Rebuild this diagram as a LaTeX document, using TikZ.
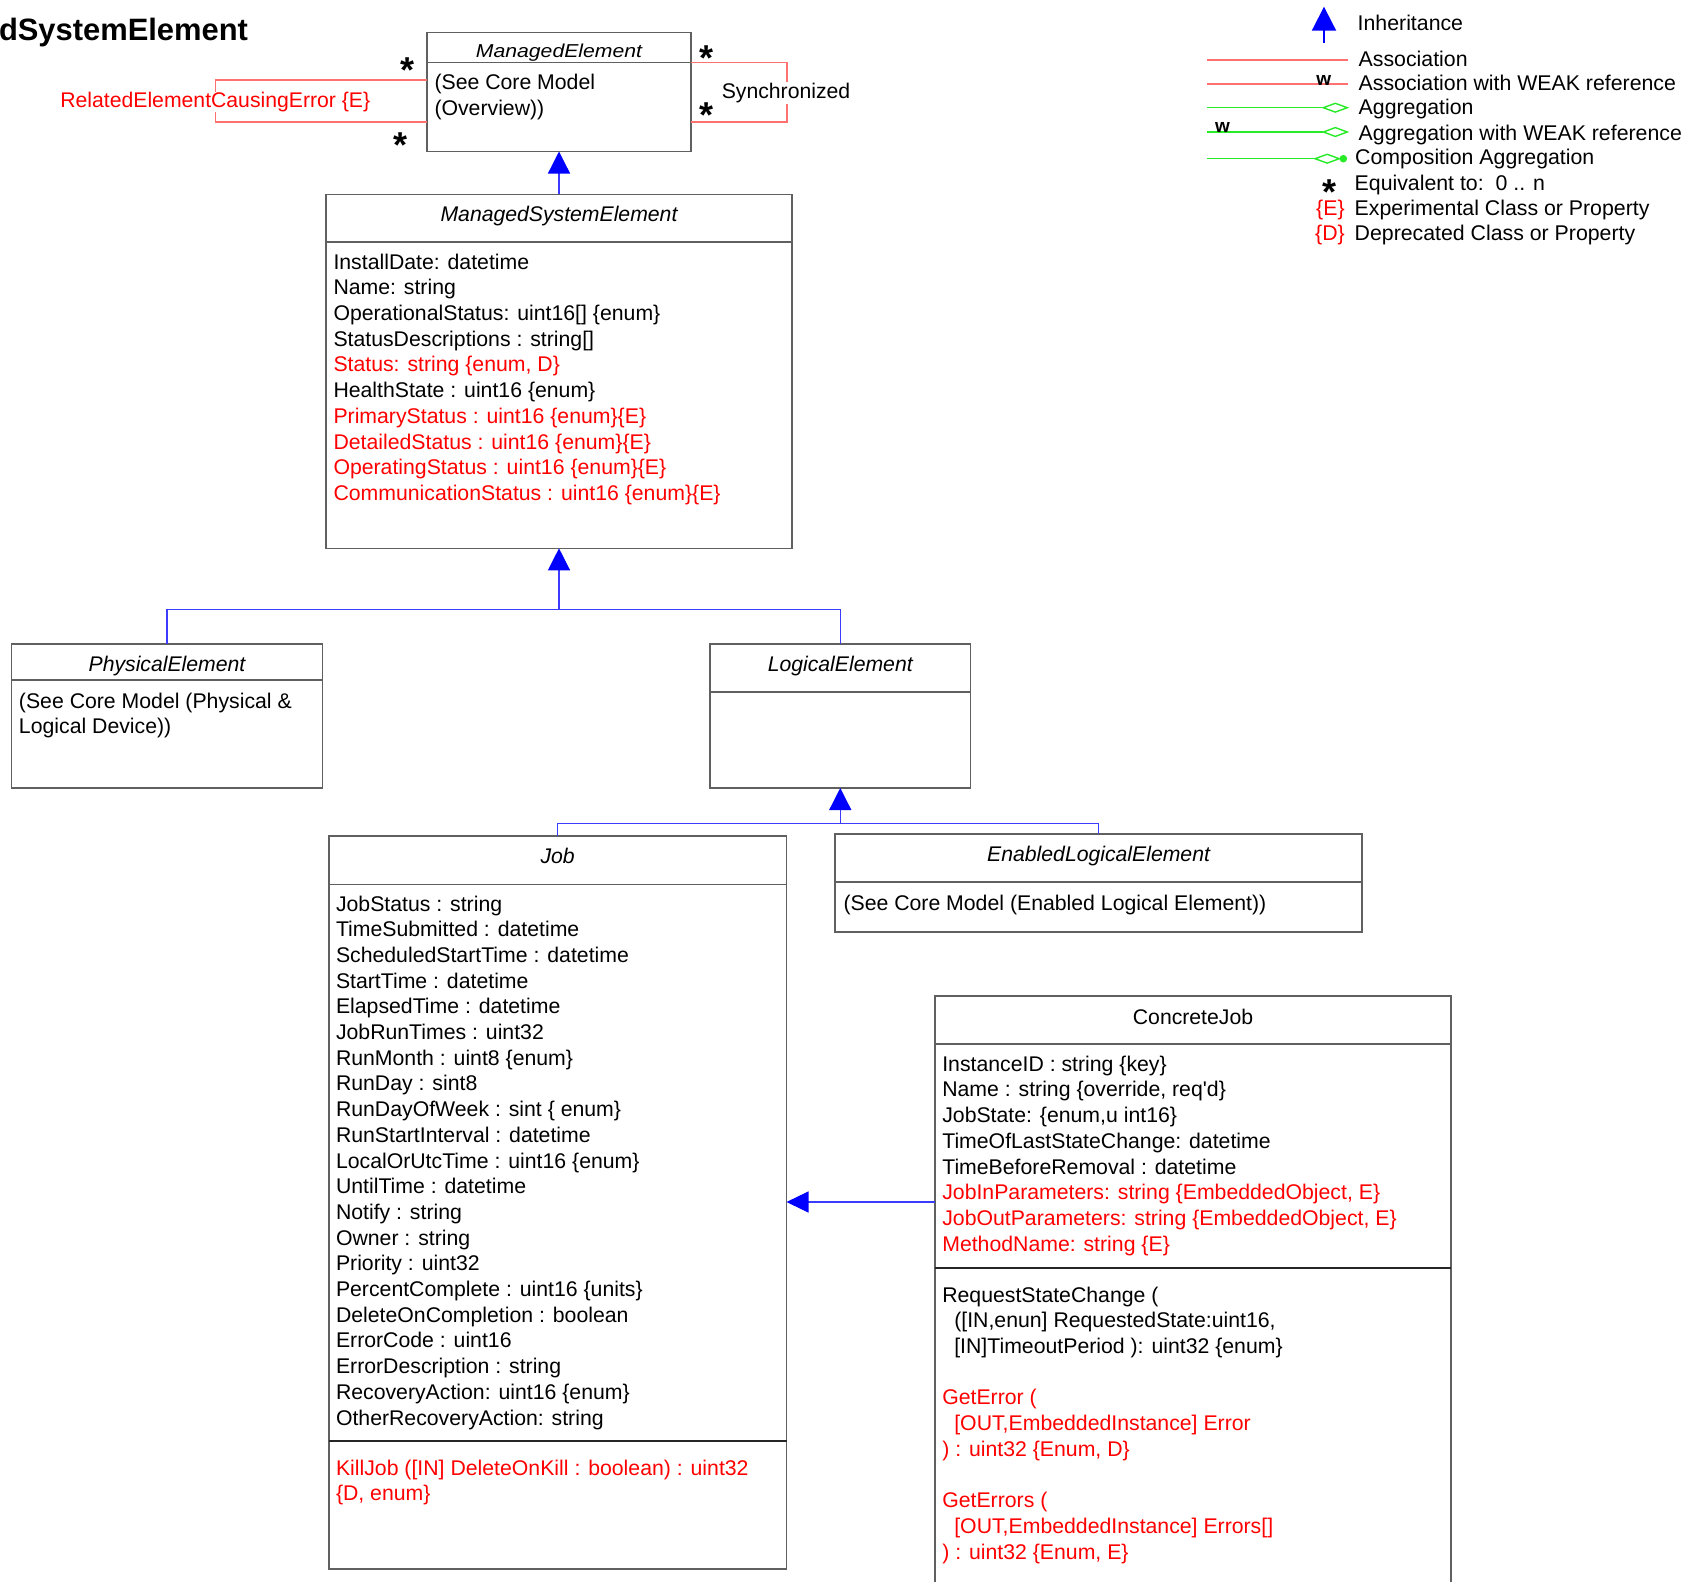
\documentclass[tikz,border=0pt]{standalone}
\usepackage{fontspec}
\setmainfont{Liberation Sans}
\usepackage{graphicx}
\usetikzlibrary{arrows.meta}
\definecolor{boxgray}{RGB}{96,96,96}
\definecolor{assocred}{RGB}{255,112,112}
\definecolor{inhblue}{RGB}{0,0,255}
\definecolor{lineblue}{RGB}{60,60,255}
\definecolor{aggreen}{RGB}{40,235,40}
\definecolor{txtred}{RGB}{255,0,0}
\newcommand\rtx[1]{\textcolor{txtred}{#1}}
\newcommand\ind{\hspace*{12pt}}
\newcommand\astglyph{\raisebox{-20.5pt}[0pt][0pt]{*}}
\tikzset{
  cbox/.style={draw=boxgray, line width=1.6pt, rectangle, inner sep=0pt, outer sep=0pt, anchor=north west},
  msep/.style={draw=black!85, line width=1.6pt},
  txt/.style={inner sep=0pt, outer sep=0pt, anchor=north west, align=left, font=\fontsize{21.25}{25.7}\selectfont},
  ttl/.style={inner sep=0pt, anchor=base, font=\fontsize{21.2}{25.7}\selectfont\itshape},
  lbl/.style={inner sep=0pt, anchor=base, font=\fontsize{21.2}{25.7}\selectfont},
  lgd/.style={inner sep=0pt, anchor=base west, font=\fontsize{21.3}{25.7}\selectfont},
  astx/.style={inner sep=0pt, anchor=center, font=\fontsize{36}{36}\selectfont\bfseries},
  wtx/.style={inner sep=0pt, anchor=base, font=\fontsize{19}{19}\selectfont\bfseries},
  conn/.style={draw=lineblue, line width=1.3pt},
  inh/.style={conn, -{Triangle[length=22pt,width=22pt,color=inhblue]}},
  assoc/.style={draw=assocred, line width=1.6pt},
  agg/.style={draw=aggreen, line width=1.4pt},
}
\newcommand\compart[5]{\node[cbox, minimum width=#4pt, minimum height=#5pt] (#1) at (#2,#3) {};}
\begin{document}
\begin{tikzpicture}[x=1pt,y=-1pt]
\useasboundingbox (0,0) rectangle (1703,1582);
\clip (0,0) rectangle (1703,1582);

% ---------- title ----------
\node[inner sep=0pt, anchor=base west, font=\fontsize{30.9}{32}\selectfont\bfseries] (title) at (-1.2,40) {dSystemElement};

% ---------- compartments ----------
\compart{meh}{427}{32.3}{264}{30}
\compart{meb}{427}{62.3}{264}{89.2}
\compart{mseh}{326}{194.3}{466}{47.7}
\compart{mseb}{326}{242}{466}{306.3}
\compart{peh}{11.4}{644}{311.2}{35.7}
\compart{peb}{11.4}{679.7}{311.2}{108.3}
\compart{leh}{710.2}{644}{260.1}{48}
\compart{leb}{710.2}{692}{260.1}{96}
\compart{jobh}{328.8}{836}{457.7}{48.3}
\compart{joba}{328.8}{884.3}{457.7}{556.7}
\compart{jobm}{328.8}{1441}{457.7}{128}
\compart{eleh}{835.2}{833.7}{526.8}{48}
\compart{eleb}{835.2}{881.7}{526.8}{50}
\compart{cjh}{935}{996}{516}{47.7}
\compart{cja}{935}{1043.7}{516}{224.2}
\compart{cjm}{935}{1267.9}{516}{360}
\draw[msep] (jobm.north west) -- (jobm.north east);
\draw[msep] (cjm.north west) -- (cjm.north east);

% ---------- connectors ----------
\draw[inh] (mseh.north) -- (meb.south);
\coordinate (j1) at (559,609.3);
\draw[conn] (peh.north) |- (j1) -| (leh.north);
\draw[inh] (j1) -- (mseb.south);
\coordinate (j2) at (840.25,823.7);
\draw[conn] (jobh.north) |- (j2) -| (eleh.north);
\draw[inh] (j2) -- (leb.south);
\coordinate (j3) at (900,1202);
\draw[inh, -{Triangle[length=22pt,width=21pt,color=inhblue]}] (cja.west |- j3) -- (joba.east |- j3);

% associations
\coordinate (r1) at (215.3,80);
\coordinate (r2) at (215.3,121.7);
\draw[assoc] (meb.west |- r1) -- (r1) -- (r2) -- (meb.west |- r2);
\coordinate (s1) at (787,62.3);
\coordinate (s2) at (787,121.7);
\draw[assoc] (meb.east |- s1) -- (s1) -- (s2) -- (meb.east |- s2);
\node[lbl, fill=white, inner sep=0.5pt, text=txtred] (rel) at (215.3,107.5) {RelatedElementCausingError \{E\}};
\node[lbl, fill=white, inner sep=1pt] (syn) at (786,98.2) {Synchronized};
\node[astx] (st1) at (407.3,61.7) {\astglyph};
\node[astx] (st2) at (400.7,136.7) {\astglyph};
\node[astx] (st3) at (706,50) {\astglyph};
\node[astx] (st4) at (706,106.7) {\astglyph};

% ---------- titles ----------
\node[ttl] (met) at (559,57.3) {\scalebox{1}[0.88]{ManagedElement}};
\node[ttl] (mset) at (559,221.7) {ManagedSystemElement};
\node[ttl] (pet) at (167,671) {PhysicalElement};
\node[ttl] (let) at (840.25,671) {LogicalElement};
\node[ttl] (jobt) at (557.65,863.5) {Job};
\node[ttl] (elet) at (1098.6,861.5) {EnabledLogicalElement};
\node[lbl] (cjt) at (1193,1024) {ConcreteJob};

% ---------- bodies ----------
\node[txt] (mebt) at (434.5,72) {\strut(See Core Model\\(Overview))};
\node[txt] (msebt) at (333.5,251.2) {\strut InstallDate: datetime\\
Name: string\\
OperationalStatus: uint16[] \{enum\}\\
StatusDescriptions : string[]\\
\rtx{Status: string \{enum, D\}}\\
HealthState : uint16 \{enum\}\\
\rtx{PrimaryStatus : uint16 \{enum\}\{E\}}\\
\rtx{DetailedStatus : uint16 \{enum\}\{E\}}\\
\rtx{OperatingStatus : uint16 \{enum\}\{E\}}\\
\rtx{CommunicationStatus : uint16 \{enum\}\{E\}}};
\node[txt] (pebt) at (19,690.2) {\strut(See Core Model (Physical \&\\Logical Device))};
\node[txt] (elebt) at (843.5,892.8) {\strut(See Core Model (Enabled Logical Element))};
\node[txt] (jobat) at (336,893) {\strut JobStatus : string\\
TimeSubmitted : datetime\\
ScheduledStartTime : datetime\\
StartTime : datetime\\
ElapsedTime : datetime\\
JobRunTimes : uint32\\
RunMonth : uint8 \{enum\}\\
RunDay : sint8\\
RunDayOfWeek : sint \{ enum\}\\
RunStartInterval : datetime\\
LocalOrUtcTime : uint16 \{enum\}\\
UntilTime : datetime\\
Notify : string\\
Owner : string\\
Priority : uint32\\
PercentComplete : uint16 \{units\}\\
DeleteOnCompletion : boolean\\
ErrorCode : uint16\\
ErrorDescription : string\\
RecoveryAction: uint16 \{enum\}\\
OtherRecoveryAction: string};
\node[txt] (jobmt) at (336,1457) {\strut\rtx{KillJob ([IN] DeleteOnKill : boolean) : uint32}\\
\rtx{\{D, enum\}}};
\node[txt] (cjat) at (942.3,1053.2) {\strut InstanceID : string \{key\}\\
Name : string \{override, req\textquotesingle d\}\\
JobState: \{enum,u int16\}\\
TimeOfLastStateChange: datetime\\
TimeBeforeRemoval : datetime\\
\rtx{JobInParameters: string \{EmbeddedObject, E\}}\\
\rtx{JobOutParameters: string \{EmbeddedObject, E\}}\\
\rtx{MethodName: string \{E\}}};
\node[txt] (cjmt) at (942.3,1284) {\strut RequestStateChange (\\
\ind([IN,enun] RequestedState:uint16,\\
\ind[IN]TimeoutPeriod ): uint32 \{enum\}\\
\strut\\
\rtx{GetError (}\\
\ind\rtx{[OUT,EmbeddedInstance] Error}\\
\rtx{) : uint32 \{Enum, D\}}\\
\strut\\
\rtx{GetErrors (}\\
\ind\rtx{[OUT,EmbeddedInstance] Errors[]}\\
\rtx{) : uint32 \{Enum, E\}}};

% ---------- legend ----------
\coordinate (li1) at (1324,42.7);
\coordinate (li2) at (1324,6.7);
\draw[conn, draw=inhblue, line width=2pt, -{Triangle[length=24pt,width=24pt,color=inhblue]}] (li1) -- (li2);
\node[lgd] (lt1) at (1357.5,30.2) {Inheritance};
\coordinate (la1) at (1206.7,60);
\coordinate (la2) at (1347.7,60);
\draw[assoc] (la1) -- (la2);
\node[lgd] (lt2) at (1358.5,66.8) {Association};
\coordinate (lw1) at (1206.7,84);
\coordinate (lw2) at (1347.7,84);
\draw[assoc] (lw1) -- (lw2);
\node[wtx] (lwt1) at (1323.8,85) {w};
\node[lgd] (lt3) at (1358.5,90.2) {Association with WEAK reference};
\coordinate (lg1) at (1206.7,107.7);
\coordinate (lg2) at (1323.3,107.7);
\draw[agg] (lg1) -- (lg2);
\draw[agg, fill=white] (lg2) -- ++(12,-4.4) -- ++(12,4.4) -- ++(-12,4.4) -- cycle;
\node[lgd] (lt4) at (1358.5,114.8) {Aggregation};
\coordinate (lk1) at (1206.7,132);
\coordinate (lk2) at (1323.3,132);
\draw[agg] (lk1) -- (lk2);
\draw[agg, fill=white] (lk2) -- ++(12,-4.4) -- ++(12,4.4) -- ++(-12,4.4) -- cycle;
\node[wtx] (lwt2) at (1222.5,132.7) {w};
\node[lgd] (lt5) at (1358.5,140.8) {Aggregation with WEAK reference};
\coordinate (lc1) at (1206.7,158.7);
\coordinate (lc2) at (1315,158.7);
\draw[agg] (lc1) -- (lc2);
\draw[agg, fill=white] (lc2) -- ++(12.15,-4.4) -- ++(12.15,4.4) -- ++(-12.15,4.4) -- cycle;
\fill[aggreen] (1343.3,158.7) circle (3.8pt);
\node[lgd] (lt6) at (1355,164.8) {Composition Aggregation};
\node[astx] (lst) at (1329.8,184.3) {\astglyph};
\node[lgd] (lt7) at (1354.5,190.2) {Equivalent to:\ \ 0 .. n};
\node[lgd, text=txtred] (le) at (1316,215.8) {\{E\}};
\node[lgd] (lt8) at (1354.5,215.8) {Experimental Class or Property};
\node[lgd, text=txtred] (ld) at (1315,240.8) {\{D\}};
\node[lgd] (lt9) at (1354.5,240.8) {Deprecated Class or Property};
\end{tikzpicture}
\end{document}
